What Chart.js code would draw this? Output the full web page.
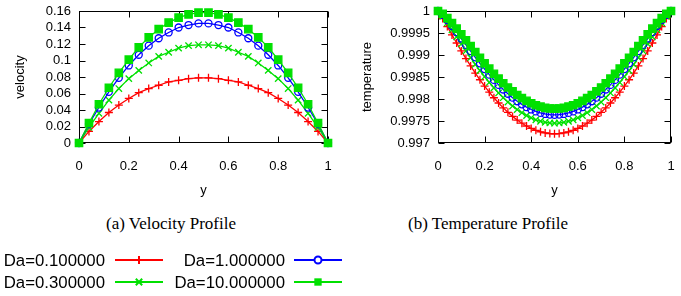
<!DOCTYPE html>
<html>
<head>
<meta charset="utf-8">
<script src="https://cdn.jsdelivr.net/npm/chart.js@4.4.1/dist/chart.umd.min.js"></script>
<style>
  body { margin: 0; background: #fff; }
  #wrap { position: relative; width: 681px; height: 296px; overflow: hidden; }
  canvas { position: absolute; }
  .caption { position: absolute; top: 214px; font: 17px "Liberation Serif", "Times New Roman", serif; color: #000; white-space: nowrap; transform: translateX(-50%); }
</style>
</head>
<body>
<div id="wrap">
  <canvas id="velocity-chart" width="340" height="200" style="left:0;top:0"></canvas>
  <canvas id="temperature-chart" width="341" height="200" style="left:340px;top:0"></canvas>
  <div class="caption" style="left:171px">(a) Velocity Profile</div>
  <div class="caption" style="left:488px">(b) Temperature Profile</div>
  <canvas id="legend" width="360" height="58" style="left:0;top:238px"></canvas>
</div>
<script>
// velocity profile, 26 points across the channel
const velY = [0, 0.04, 0.08, 0.12, 0.16, 0.2, 0.24, 0.28, 0.32, 0.36, 0.4, 0.44, 0.48,
  0.52, 0.56, 0.6, 0.64, 0.68, 0.72, 0.76, 0.8, 0.84, 0.88, 0.92, 0.96, 1];
const velDa01 = [0, 0.014, 0.026, 0.037, 0.046, 0.054, 0.061, 0.066, 0.070, 0.074, 0.076, 0.078, 0.079,
  0.079, 0.078, 0.076, 0.074, 0.070, 0.066, 0.061, 0.054, 0.046, 0.037, 0.026, 0.014, 0];
const velDa03 = [0, 0.019, 0.036, 0.052, 0.066, 0.078, 0.088, 0.097, 0.105, 0.110, 0.115, 0.118, 0.119,
  0.119, 0.118, 0.115, 0.110, 0.105, 0.097, 0.088, 0.078, 0.066, 0.052, 0.036, 0.019, 0];
const velDa1 = [0, 0.023, 0.043, 0.062, 0.079, 0.094, 0.107, 0.118, 0.127, 0.134, 0.140, 0.143, 0.145,
  0.145, 0.143, 0.140, 0.134, 0.127, 0.118, 0.107, 0.094, 0.079, 0.062, 0.043, 0.023, 0];
const velDa10 = [0, 0.024, 0.047, 0.067, 0.085, 0.101, 0.116, 0.128, 0.138, 0.146, 0.152, 0.156, 0.158,
  0.158, 0.156, 0.152, 0.146, 0.138, 0.128, 0.116, 0.101, 0.085, 0.067, 0.047, 0.024, 0];

// temperature profile, 51 points
const tempY = [0, 0.02, 0.04, 0.06, 0.08, 0.1, 0.12, 0.14, 0.16, 0.18, 0.2, 0.22, 0.24, 0.26, 0.28, 0.3,
  0.32, 0.34, 0.36, 0.38, 0.4, 0.42, 0.44, 0.46, 0.48, 0.5, 0.52, 0.54, 0.56, 0.58, 0.6, 0.62, 0.64,
  0.66, 0.68, 0.7, 0.72, 0.74, 0.76, 0.78, 0.8, 0.82, 0.84, 0.86, 0.88, 0.9, 0.92, 0.94, 0.96, 0.98, 1];
const tempDa01 = [1, 0.99983, 0.999645, 0.999457, 0.999273, 0.999093, 0.998919, 0.998751, 0.99859,
  0.998437, 0.998293, 0.998156, 0.998028, 0.997909, 0.997798, 0.997697, 0.997605, 0.997522, 0.99745,
  0.997386, 0.997332, 0.997288, 0.997254, 0.99723, 0.997215, 0.99721, 0.997215, 0.99723, 0.997254,
  0.997288, 0.997332, 0.997386, 0.99745, 0.997522, 0.997605, 0.997697, 0.997798, 0.997909, 0.998028,
  0.998156, 0.998293, 0.998437, 0.99859, 0.998751, 0.998919, 0.999093, 0.999273, 0.999457, 0.999645,
  0.99983, 1];
const tempDa03 = [1, 0.99988, 0.99973, 0.999573, 0.999412, 0.999252, 0.999093, 0.998939, 0.998789,
  0.998645, 0.998507, 0.998377, 0.998253, 0.998138, 0.99803, 0.997931, 0.997841, 0.99776, 0.997688,
  0.997625, 0.997572, 0.997528, 0.997494, 0.99747, 0.997455, 0.99745, 0.997455, 0.99747, 0.997494,
  0.997528, 0.997572, 0.997625, 0.997688, 0.99776, 0.997841, 0.997931, 0.99803, 0.998138, 0.998253,
  0.998377, 0.998507, 0.998645, 0.998789, 0.998939, 0.999093, 0.999252, 0.999412, 0.999573, 0.99973,
  0.99988, 1];
const tempDa1 = [1, 0.999914, 0.999793, 0.999659, 0.999519, 0.999375, 0.99923, 0.999087, 0.998947,
  0.99881, 0.998679, 0.998553, 0.998434, 0.998321, 0.998216, 0.998119, 0.99803, 0.997949, 0.997878,
  0.997815, 0.997762, 0.997718, 0.997684, 0.99766, 0.997645, 0.99764, 0.997645, 0.99766, 0.997684,
  0.997718, 0.997762, 0.997815, 0.997878, 0.997949, 0.99803, 0.998119, 0.998216, 0.998321, 0.998434,
  0.998553, 0.998679, 0.99881, 0.998947, 0.999087, 0.99923, 0.999375, 0.999519, 0.999659, 0.999793,
  0.999914, 1];
const tempDa10 = [1, 0.999937, 0.999839, 0.999724, 0.999599, 0.999469, 0.999336, 0.999202, 0.999069,
  0.998938, 0.998811, 0.998689, 0.998572, 0.998462, 0.998357, 0.998261, 0.998172, 0.998091, 0.99802,
  0.997957, 0.997903, 0.997859, 0.997825, 0.9978, 0.997785, 0.99778, 0.997785, 0.9978, 0.997825,
  0.997859, 0.997903, 0.997957, 0.99802, 0.998091, 0.998172, 0.998261, 0.998357, 0.998462, 0.998572,
  0.998689, 0.998811, 0.998938, 0.999069, 0.999202, 0.999336, 0.999469, 0.999599, 0.999724, 0.999839,
  0.999937, 1];

const xTicks = [0, 0.2, 0.4, 0.6, 0.8, 1];
const velTicks = [0, 0.02, 0.04, 0.06, 0.08, 0.1, 0.12, 0.14, 0.16];
const tempTicks = [0.997, 0.9975, 0.998, 0.9985, 0.999, 0.9995, 1];

const seriesNames = ['Da=0.100000', 'Da=0.300000', 'Da=1.000000', 'Da=10.000000'];
const seriesColors = ['#ff0000', '#00e000', '#0000ff', '#00e000'];
const seriesMarkers = ['cross', 'crossRot', 'circle', 'rect'];
const markerRadius = [4, 4.5, 3.5, 5.2];

Chart.defaults.font.family = '"Liberation Sans", Arial, sans-serif';
Chart.defaults.color = '#000';

const fmt = v => String(parseFloat(Number(v).toFixed(6)));

// gnuplot style box with ticks pointing inwards on all four sides
const frameTicks = {
    id: 'frameTicks',
    beforeDatasetsDraw(chart) {
        const { ctx, chartArea: a, scales } = chart;
        const L = Math.round(a.left) + 0.5, R = Math.round(a.right) - 0.5;
        const T = Math.round(a.top) + 0.5, B = Math.round(a.bottom) - 0.5;
        const len = 6;
        ctx.save();
        ctx.strokeStyle = '#000';
        ctx.lineWidth = 1;
        ctx.beginPath();
        scales.x.ticks.forEach(t => {
            const px = Math.round(scales.x.getPixelForValue(t.value)) + 0.5;
            ctx.moveTo(px, B); ctx.lineTo(px, B - len);
            ctx.moveTo(px, T); ctx.lineTo(px, T + len);
        });
        scales.y.ticks.forEach(t => {
            const py = Math.round(scales.y.getPixelForValue(t.value)) + 0.5;
            ctx.moveTo(L, py); ctx.lineTo(L + len, py);
            ctx.moveTo(R, py); ctx.lineTo(R - len, py);
        });
        ctx.stroke();
        ctx.strokeRect(L, T, R - L, B - T);
        ctx.restore();
    }
};

function buildDatasets(xs, lists) {
    return lists.map((vals, i) => ({
        label: seriesNames[i],
        data: vals.map((v, j) => ({ x: xs[j], y: v })),
        borderColor: seriesColors[i],
        backgroundColor: i === 3 ? seriesColors[i] : 'rgba(0,0,0,0)',
        pointBorderColor: seriesColors[i],
        pointBackgroundColor: i === 3 ? seriesColors[i] : 'rgba(0,0,0,0)',
        pointStyle: seriesMarkers[i],
        pointRadius: markerRadius[i],
        pointBorderWidth: 1.3,
        borderWidth: 1.3,
        tension: 0,
        clip: false,
        order: 4 - i
    }));
}

function chartOptions(yMin, yMax, yTicks, yTitle, yWidth, yTitlePad, padRight, padTop) {
    return {
        responsive: false,
        animation: false,
        layout: { padding: { left: 0, right: padRight, top: padTop, bottom: 0 } },
        plugins: { legend: { display: false }, tooltip: { enabled: false } },
        scales: {
            x: {
                type: 'linear', min: 0, max: 1,
                afterBuildTicks: s => { s.ticks = xTicks.map(v => ({ value: v })); },
                afterFit: s => { s.height = 57; s.paddingLeft = 0; s.paddingRight = 0; },
                grid: { display: false, drawTicks: false },
                border: { display: false },
                ticks: { font: { size: 13 }, padding: 16, maxRotation: 0, autoSkip: false, callback: fmt },
                title: { display: true, text: 'y', font: { size: 13 }, padding: { top: 2, bottom: 2 } }
            },
            y: {
                type: 'linear', min: yMin, max: yMax,
                afterBuildTicks: s => { s.ticks = yTicks.map(v => ({ value: v })); },
                afterFit: s => { s.width = yWidth; s.paddingTop = 0; s.paddingBottom = 0; },
                grid: { display: false, drawTicks: false },
                border: { display: false },
                ticks: { font: { size: 13 }, padding: 8, autoSkip: false, callback: fmt },
                title: { display: true, text: yTitle, font: { size: 13 }, padding: { top: yTitlePad, bottom: yTitlePad } }
            }
        }
    };
}

new Chart(document.getElementById('velocity-chart'), {
    type: 'line',
    data: { datasets: buildDatasets(velY, [velDa01, velDa03, velDa1, velDa10]) },
    options: chartOptions(0, 0.16, velTicks, 'velocity', 79, 13, 12, 11),
    plugins: [frameTicks]
});

new Chart(document.getElementById('temperature-chart'), {
    type: 'line',
    data: { datasets: buildDatasets(tempY, [tempDa01, tempDa03, tempDa1, tempDa10]) },
    options: chartOptions(0.997, 1, tempTicks, 'temperature', 98, 20, 10, 11),
    plugins: [frameTicks]
});

// legend: two columns, text right aligned before the line sample
function drawMarker(ctx, style, x, y, r, color) {
    ctx.strokeStyle = color;
    ctx.fillStyle = color;
    ctx.beginPath();
    if (style === 'cross') {
        ctx.moveTo(x - r, y); ctx.lineTo(x + r, y);
        ctx.moveTo(x, y - r); ctx.lineTo(x, y + r);
        ctx.stroke();
    } else if (style === 'crossRot') {
        const d = r * Math.SQRT1_2;
        ctx.moveTo(x - d, y - d); ctx.lineTo(x + d, y + d);
        ctx.moveTo(x - d, y + d); ctx.lineTo(x + d, y - d);
        ctx.stroke();
    } else if (style === 'circle') {
        ctx.arc(x, y, r, 0, Math.PI * 2);
        ctx.fillStyle = '#fff';
        ctx.fill();
        ctx.stroke();
    } else {
        const s = r * Math.SQRT1_2;
        ctx.fillRect(x - s, y - s, 2 * s, 2 * s);
    }
}

const legendCtx = document.getElementById('legend').getContext('2d');
const legendSlots = [
    { i: 0, textRight: 105, lineLeft: 115, y: 22 },
    { i: 1, textRight: 105, lineLeft: 115, y: 44 },
    { i: 2, textRight: 285, lineLeft: 294, y: 22 },
    { i: 3, textRight: 285, lineLeft: 294, y: 44 }
];
legendCtx.font = '16.8px "Liberation Sans", Arial, sans-serif';
legendCtx.textAlign = 'right';
legendCtx.textBaseline = 'middle';
legendSlots.forEach(slot => {
    const c = seriesColors[slot.i];
    legendCtx.fillStyle = '#000';
    legendCtx.fillText(seriesNames[slot.i], slot.textRight, slot.y + 1);
    legendCtx.lineWidth = 2;
    legendCtx.strokeStyle = c;
    legendCtx.beginPath();
    legendCtx.moveTo(slot.lineLeft, slot.y);
    legendCtx.lineTo(slot.lineLeft + 48, slot.y);
    legendCtx.stroke();
    drawMarker(legendCtx, seriesMarkers[slot.i], slot.lineLeft + 24, slot.y, markerRadius[slot.i], c);
});
</script>
</body>
</html>
